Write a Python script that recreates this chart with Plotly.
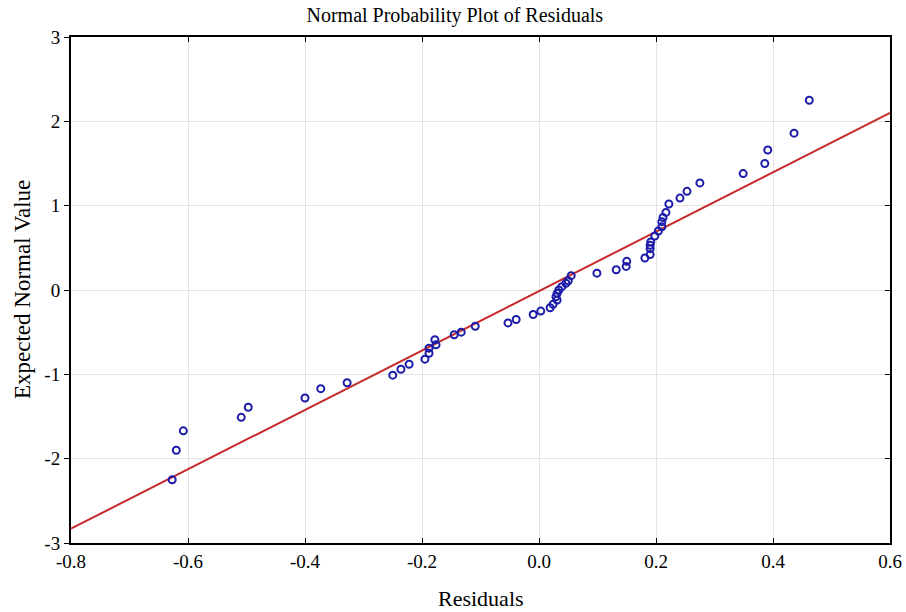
import plotly.graph_objects as go

residuals = [-0.627, -0.620, -0.608, -0.509, -0.497, -0.400, -0.373, -0.328, -0.250, -0.236,
             -0.222, -0.195, -0.188, -0.188, -0.176, -0.178, -0.145, -0.133, -0.109, -0.053,
             -0.039, -0.010, 0.003, 0.019, 0.024, 0.031, 0.029, 0.031, 0.034, 0.039,
             0.046, 0.050, 0.055, 0.099, 0.132, 0.149, 0.150, 0.181, 0.190, 0.190,
             0.190, 0.191, 0.198, 0.204, 0.210, 0.210, 0.212, 0.217, 0.222, 0.241,
             0.253, 0.275, 0.349, 0.386, 0.391, 0.436, 0.462]
expected = [-2.25, -1.90, -1.67, -1.51, -1.39, -1.28, -1.17, -1.10, -1.01, -0.94,
            -0.88, -0.82, -0.75, -0.69, -0.65, -0.59, -0.53, -0.50, -0.43, -0.39,
            -0.35, -0.29, -0.25, -0.21, -0.17, -0.12, -0.08, -0.04, 0.00, 0.04,
            0.08, 0.11, 0.17, 0.20, 0.24, 0.28, 0.34, 0.38, 0.42, 0.49,
            0.53, 0.57, 0.64, 0.70, 0.75, 0.81, 0.86, 0.92, 1.02, 1.09,
            1.17, 1.27, 1.38, 1.50, 1.66, 1.86, 2.25]

line_x = [-0.8, 0.6]
line_y = [-2.83, 2.10]

x_ticks = [-0.8, -0.6, -0.4, -0.2, 0.0, 0.2, 0.4, 0.6]
x_tick_labels = ["-0.8", "-0.6", "-0.4", "-0.2", "0.0", "0.2", "0.4", "0.6"]
y_ticks = [-3, -2, -1, 0, 1, 2, 3]
y_tick_labels = ["-3", "-2", "-1", "0", "1", "2", "3"]

FONT = "Liberation Serif"
W, H = 906, 612
L, R, T, B = 71, 16, 37, 69

fig = go.Figure()
fig.add_trace(go.Scatter(x=line_x, y=line_y, mode="lines",
                         line=dict(color="#c62a2a", width=2), showlegend=False,
                         hoverinfo="skip"))
fig.add_trace(go.Scatter(x=residuals, y=expected, mode="markers",
                         marker=dict(symbol="circle-open", size=7, color="#1c1ca8",
                                     line=dict(width=2, color="#1c1ca8")),
                         showlegend=False))
# invisible trace for mirrored inside ticks
fig.add_trace(go.Scatter(x=[None], y=[None], xaxis="x2", yaxis="y2", showlegend=False))

fig.update_layout(
    width=W, height=H,
    margin=dict(l=L, r=R, t=T, b=B, autoexpand=False),
    paper_bgcolor="white", plot_bgcolor="white",
    font=dict(family=FONT, color="black"),
    title=dict(text="Normal Probability Plot of Residuals", x=0.502, xanchor="center",
               xref="container", y=1 - 15 / H, yref="container", yanchor="middle",
               font=dict(size=20, family=FONT)),
    xaxis=dict(range=[-0.8, 0.6], tickvals=x_ticks, ticktext=x_tick_labels,
               showgrid=True, gridcolor="#e3e3e3", gridwidth=1, zeroline=False,
               showline=True, linecolor="black", linewidth=2, mirror=True,
               ticks="inside", ticklen=5, tickcolor="black", automargin=False,
               tickfont=dict(size=19, family=FONT)),
    yaxis=dict(range=[-3, 3], tickvals=y_ticks, ticktext=y_tick_labels,
               showgrid=True, gridcolor="#e3e3e3", gridwidth=1, zeroline=False,
               showline=True, linecolor="black", linewidth=2, mirror=True,
               ticks="outside", ticklen=5, tickcolor="black", automargin=False,
               tickfont=dict(size=19, family=FONT)),
    xaxis2=dict(range=[-0.8, 0.6], tickvals=x_ticks, overlaying="x", side="top",
                showticklabels=False, ticks="inside", ticklen=5, tickcolor="black",
                showgrid=False, zeroline=False, showline=False, automargin=False),
    yaxis2=dict(range=[-3, 3], tickvals=y_ticks, overlaying="y", side="right",
                showticklabels=False, ticks="inside", ticklen=5, tickcolor="black",
                showgrid=False, zeroline=False, showline=False, automargin=False),
    annotations=[
        dict(text="Residuals", xref="paper", yref="paper", x=0.5, y=-(598 - (H - B)) / (H - T - B),
             xanchor="center", yanchor="middle", showarrow=False,
             font=dict(size=22, family=FONT)),
        dict(text="Expected Normal Value", xref="paper", yref="paper",
             x=-(L - 22) / (W - L - R), y=0.5, textangle=-90,
             xanchor="center", yanchor="middle", showarrow=False,
             font=dict(size=23, family=FONT)),
    ],
)

fig.write_html("out.html")
